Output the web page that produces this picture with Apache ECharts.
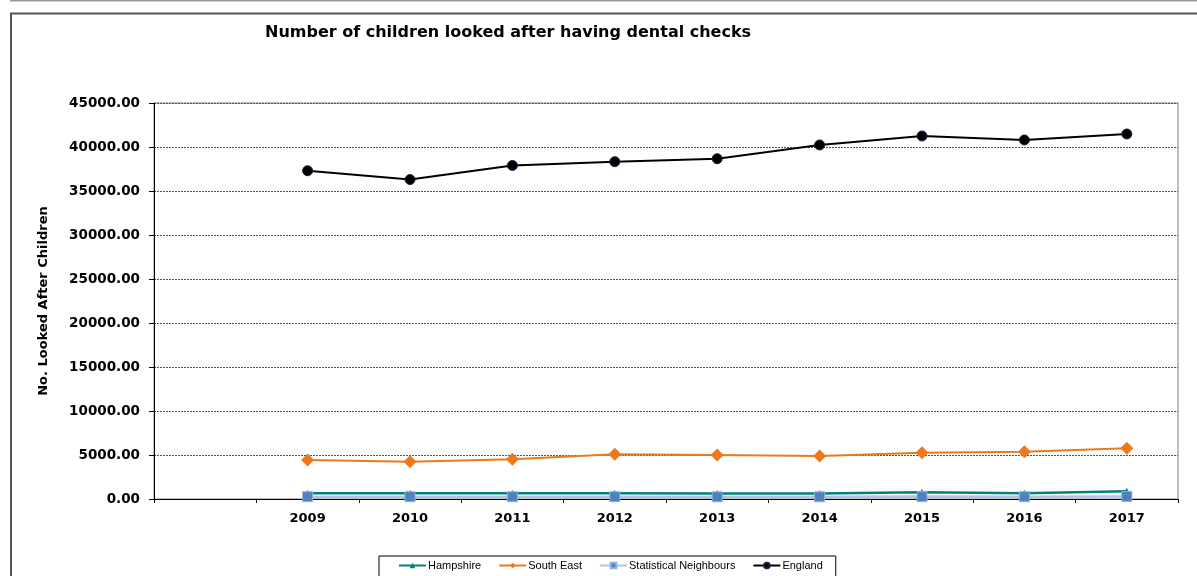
<!DOCTYPE html>
<html>
<head>
<meta charset="utf-8">
<script src="https://cdn.jsdelivr.net/npm/echarts@6/dist/echarts.min.js"></script>
<style>
  html, body { margin: 0; padding: 0; background: #fff; }
  #chart { width: 1197px; height: 576px; }
</style>
</head>
<body>
<div id="chart"></div>
<script>
// Year categories; the leading blank slot leaves a gap before 2009
const years = ['', '2009', '2010', '2011', '2012', '2013', '2014', '2015', '2016', '2017'];

// Children looked after having dental checks, per year 2009-2017
const hampshire = [null, 640, 640, 640, 640, 620, 620, 780, 650, 880];
const southEast = [null, 4430, 4240, 4510, 5080, 5000, 4890, 5260, 5380, 5760];
const statNeighbours = [null, 260, 260, 260, 260, 250, 250, 270, 260, 290];
const england = [null, 37300, 36300, 37900, 38330, 38670, 40230, 41250, 40800, 41480];

const yTicks = { min: 0, max: 45000, interval: 5000 };

const chart = echarts.init(document.getElementById('chart'), null, { renderer: 'canvas' });

const font = 'DejaVu Sans, Verdana, sans-serif';

chart.setOption({
  animation: false,
  backgroundColor: '#ffffff',
  graphic: [
    { type: 'line', shape: { x1: 10, y1: 0.5, x2: 1197, y2: 0.5 }, style: { stroke: '#9a9a9a', lineWidth: 2 } },
    { type: 'polyline', shape: { points: [[11, 576], [11, 13.5], [1197, 13.5]] }, style: { stroke: '#555555', lineWidth: 2, fill: null } }
  ],
  title: {
    text: 'Number of children looked after having dental checks',
    left: 265,
    top: 25,
    padding: 0,
    textStyle: { fontFamily: font, fontSize: 16, fontWeight: 'bold', color: '#000' }
  },
  legend: {
    left: 379,
    top: 556,
    padding: [4, 13, 6, 19],
    borderColor: '#000',
    borderWidth: 1,
    itemWidth: 27,
    itemHeight: 7,
    itemGap: 17,
    textStyle: { fontFamily: 'Liberation Sans, Arial, sans-serif', fontSize: 11, color: '#000', padding: [0, 0, 0, -3] },
    data: ['Hampshire', 'South East', 'Statistical Neighbours', 'England']
  },
  grid: {
    left: 154,
    right: 19,
    top: 103,
    bottom: 77,
    show: true,
    borderColor: '#808080',
    borderWidth: 1
  },
  xAxis: {
    type: 'category',
    data: years,
    boundaryGap: true,
    axisLine: { lineStyle: { color: '#000', width: 1 } },
    axisTick: { show: true, interval: 0, length: 4, lineStyle: { color: '#000' } },
    axisLabel: { interval: 0, margin: 13, fontFamily: font, fontSize: 13, fontWeight: 'bold', color: '#000' },
    splitLine: { show: false }
  },
  yAxis: {
    type: 'value',
    min: yTicks.min,
    max: yTicks.max,
    interval: yTicks.interval,
    name: 'No. Looked After Children',
    nameLocation: 'middle',
    nameGap: 104,
    nameTextStyle: { fontFamily: font, fontSize: 13, fontWeight: 'bold', color: '#000' },
    axisLine: { show: true, lineStyle: { color: '#000', width: 1 } },
    axisTick: { show: true, length: 5, lineStyle: { color: '#000' } },
    axisLabel: {
      margin: 14,
      fontFamily: font,
      fontSize: 13.5,
      fontWeight: 'bold',
      color: '#000',
      formatter: v => v.toFixed(2)
    },
    splitLine: { show: true, lineStyle: { color: '#555', type: [2, 1], width: 1 } }
  },
  series: [
    {
      name: 'Hampshire',
      type: 'line',
      data: hampshire,
      symbol: 'triangle',
      symbolSize: 7,
      color: '#00807f',
      lineStyle: { width: 2.5, color: '#00807f' },
      itemStyle: { color: '#00807f' },
      z: 2
    },
    {
      name: 'South East',
      type: 'line',
      data: southEast,
      symbol: 'diamond',
      symbolSize: 13,
      color: '#ea7a1c',
      lineStyle: { width: 2, color: '#ea7a1c' },
      itemStyle: { color: '#ea7a1c' },
      z: 3
    },
    {
      name: 'Statistical Neighbours',
      type: 'line',
      data: statNeighbours,
      symbol: 'rect',
      symbolSize: 10,
      color: '#4f81bd',
      lineStyle: { width: 2.5, color: '#a9c6e8' },
      itemStyle: { color: '#4f81bd', borderColor: '#8fb1dc', borderWidth: 1 },
      z: 4
    },
    {
      name: 'England',
      type: 'line',
      data: england,
      symbol: 'circle',
      symbolSize: 10,
      color: '#000',
      lineStyle: { width: 2, color: '#000' },
      itemStyle: { color: '#000', borderColor: '#2a1540', borderWidth: 1 },
      z: 5
    }
  ]
});
</script>
</body>
</html>
